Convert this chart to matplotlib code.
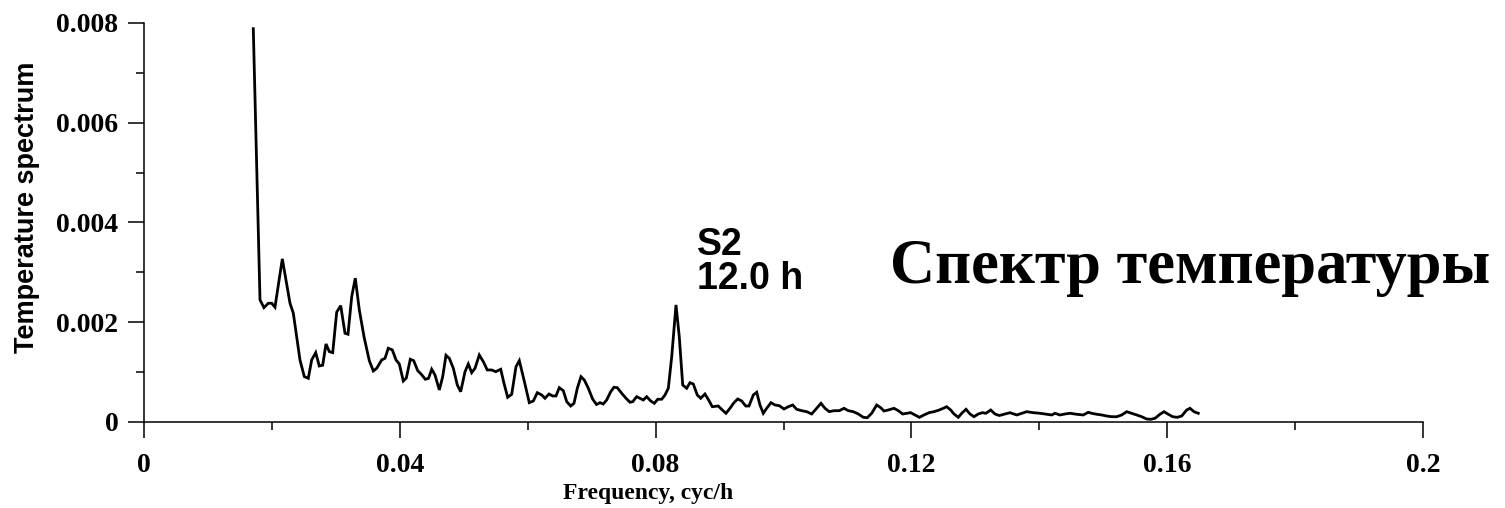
import matplotlib
matplotlib.use("Agg")
import matplotlib.pyplot as plt
from matplotlib.ticker import MultipleLocator, FixedLocator

# ---- data ----
freq = [0.01709, 0.01814, 0.01876, 0.01944, 0.01997, 0.02048, 0.02163, 0.02283, 0.02335, 0.02439,
        0.02507, 0.02569, 0.02622, 0.02685, 0.02741, 0.02794, 0.02846, 0.02898, 0.02951, 0.03013,
        0.03076, 0.03143, 0.03190, 0.03248, 0.03304, 0.03367, 0.03440, 0.03523, 0.03586, 0.03639,
        0.03717, 0.03769, 0.03820, 0.03883, 0.03941, 0.03992, 0.04055, 0.04102, 0.04164, 0.04217,
        0.04280, 0.04336, 0.04399, 0.04449, 0.04499, 0.04550, 0.04618, 0.04671, 0.04722, 0.04774,
        0.04837, 0.04899, 0.04952, 0.05020, 0.05071, 0.05124, 0.05176, 0.05243, 0.05306, 0.05368,
        0.05437, 0.05500, 0.05578, 0.05629, 0.05687, 0.05750, 0.05817, 0.05869, 0.05942, 0.06025,
        0.06088, 0.06150, 0.06219, 0.06270, 0.06333, 0.06391, 0.06442, 0.06494, 0.06557, 0.06610,
        0.06672, 0.06724, 0.06776, 0.06833, 0.06885, 0.06948, 0.07016, 0.07076, 0.07130, 0.07182,
        0.07235, 0.07298, 0.07349, 0.07401, 0.07470, 0.07537, 0.07600, 0.07642, 0.07704, 0.07756,
        0.07808, 0.07861, 0.07923, 0.07980, 0.08033, 0.08095, 0.08147, 0.08199, 0.08252, 0.08319,
        0.08370, 0.08424, 0.08486, 0.08538, 0.08589, 0.08652, 0.08705, 0.08772, 0.08835, 0.08887,
        0.08980, 0.09043, 0.09101, 0.09163, 0.09226, 0.09284, 0.09346, 0.09409, 0.09460, 0.09528,
        0.09581, 0.09632, 0.09684, 0.09737, 0.09804, 0.09867, 0.09934, 0.10008, 0.10075, 0.10144,
        0.10206, 0.10284, 0.10363, 0.10441, 0.10519, 0.10586, 0.10649, 0.10716, 0.10789, 0.10872,
        0.10946, 0.11013, 0.11091, 0.11170, 0.11248, 0.11310, 0.11379, 0.11457, 0.11520, 0.11571,
        0.11639, 0.11728, 0.11795, 0.11864, 0.11926, 0.11989, 0.12056, 0.12124, 0.12197, 0.12275,
        0.12353, 0.12436, 0.12499, 0.12552, 0.12614, 0.12666, 0.12733, 0.12796, 0.12854, 0.12916,
        0.12979, 0.13046, 0.13109, 0.13166, 0.13240, 0.13307, 0.13374, 0.13464, 0.13542, 0.13647,
        0.13725, 0.13803, 0.13906, 0.14011, 0.14116, 0.14194, 0.14245, 0.14324, 0.14402, 0.14480,
        0.14585, 0.14688, 0.14766, 0.14819, 0.14897, 0.14976, 0.15054, 0.15132, 0.15210, 0.15288,
        0.15367, 0.15445, 0.15523, 0.15601, 0.15679, 0.15742, 0.15809, 0.15887, 0.15950, 0.16017,
        0.16086, 0.16158, 0.16227, 0.16305, 0.16356, 0.16419, 0.16486]

spectrum = [0.007886, 0.002444, 0.002289, 0.002377, 0.002377, 0.002297, 0.003267, 0.002377, 0.002177, 0.001239,
            0.000904, 0.000871, 0.001239, 0.001386, 0.001118, 0.001133, 0.001560, 0.001406, 0.001386, 0.002197,
            0.002329, 0.001775, 0.001755, 0.002510, 0.002880, 0.002243, 0.001707, 0.001225, 0.001018, 0.001072,
            0.001239, 0.001273, 0.001474, 0.001440, 0.001239, 0.001159, 0.000817, 0.000877, 0.001253, 0.001225,
            0.001024, 0.000952, 0.000851, 0.000871, 0.001052, 0.000938, 0.000637, 0.000904, 0.001333, 0.001273,
            0.001072, 0.000737, 0.000602, 0.001004, 0.001159, 0.000984, 0.001072, 0.001339, 0.001205, 0.001038,
            0.001038, 0.001004, 0.001052, 0.000771, 0.000490, 0.000550, 0.001104, 0.001225, 0.000837, 0.000382,
            0.000416, 0.000582, 0.000536, 0.000470, 0.000556, 0.000516, 0.000516, 0.000683, 0.000622, 0.000402,
            0.000315, 0.000369, 0.000671, 0.000904, 0.000837, 0.000671, 0.000452, 0.000345, 0.000382, 0.000355,
            0.000436, 0.000602, 0.000691, 0.000683, 0.000570, 0.000470, 0.000390, 0.000402, 0.000502, 0.000470,
            0.000436, 0.000502, 0.000416, 0.000369, 0.000450, 0.000450, 0.000536, 0.000671, 0.001305, 0.002343,
            0.001707, 0.000737, 0.000671, 0.000783, 0.000757, 0.000536, 0.000470, 0.000556, 0.000422, 0.000301,
            0.000315, 0.000235, 0.000169, 0.000269, 0.000382, 0.000456, 0.000416, 0.000315, 0.000315, 0.000536,
            0.000590, 0.000335, 0.000169, 0.000269, 0.000382, 0.000335, 0.000321, 0.000255, 0.000301, 0.000335,
            0.000249, 0.000221, 0.000201, 0.000155, 0.000269, 0.000369, 0.000269, 0.000201, 0.000221, 0.000221,
            0.000269, 0.000221, 0.000201, 0.000155, 0.000088, 0.000080, 0.000169, 0.000335, 0.000281, 0.000215,
            0.000235, 0.000269, 0.000221, 0.000155, 0.000169, 0.000181, 0.000135, 0.000088, 0.000135, 0.000181,
            0.000201, 0.000235, 0.000269, 0.000301, 0.000235, 0.000155, 0.000088, 0.000181, 0.000249, 0.000155,
            0.000100, 0.000155, 0.000181, 0.000169, 0.000235, 0.000155, 0.000124, 0.000155, 0.000181, 0.000135,
            0.000169, 0.000201, 0.000181, 0.000169, 0.000149, 0.000135, 0.000169, 0.000135, 0.000155, 0.000169,
            0.000149, 0.000135, 0.000189, 0.000169, 0.000149, 0.000135, 0.000114, 0.000100, 0.000100, 0.000135,
            0.000201, 0.000169, 0.000135, 0.000100, 0.000054, 0.000048, 0.000068, 0.000149, 0.000201, 0.000149,
            0.000100, 0.000088, 0.000114, 0.000235, 0.000269, 0.000201, 0.000169]

x_ticks = [0, 0.04, 0.08, 0.12, 0.16, 0.2]
x_tick_labels = ["0", "0.04", "0.08", "0.12", "0.16", "0.2"]
y_ticks = [0, 0.002, 0.004, 0.006, 0.008]
y_tick_labels = ["0", "0.002", "0.004", "0.006", "0.008"]

title_text = "Спектр температуры"
peak_label = "S2\n12.0 h"
x_label = "Frequency, cyc/h"
y_label = "Temperature spectrum"

# ---- figure ----
fig = plt.figure(figsize=(15.05, 5.08), dpi=100)
ax = fig.add_axes([144 / 1505, 1 - 421.7 / 508, (1423 - 144) / 1505, (421.7 - 23) / 508])

ax.plot(freq, spectrum, color="black", linewidth=2.0, solid_joinstyle="miter")

ax.set_xlim(0, 0.2)
ax.set_ylim(0, 0.008)

for s in ["top", "right"]:
    ax.spines[s].set_visible(False)
for s in ["left", "bottom"]:
    ax.spines[s].set_linewidth(1.1)

ax.xaxis.set_major_locator(FixedLocator(x_ticks))
ax.set_xticklabels(x_tick_labels)
ax.yaxis.set_major_locator(FixedLocator(y_ticks))
ax.set_yticklabels(y_tick_labels)
ax.xaxis.set_minor_locator(MultipleLocator(0.02))
ax.yaxis.set_minor_locator(MultipleLocator(0.001))

for lab in ax.get_xticklabels() + ax.get_yticklabels():
    lab.set_fontfamily("Liberation Serif")
    lab.set_fontweight("bold")
    lab.set_fontsize(20)

ax.tick_params(axis="both", which="major", direction="out", length=11.5, width=1.1, color="black")
ax.tick_params(axis="both", which="minor", direction="out", length=6, width=1.1, color="black")
ax.tick_params(axis="x", which="major", pad=11)
ax.tick_params(axis="y", which="major", pad=7)

ax.set_xlabel(x_label, fontfamily="Liberation Serif", fontweight="bold", fontsize=17)
ax.xaxis.set_label_coords((648 - 144) / 1279, -(494 - 421.7) / 398.7)
ax.xaxis.label.set_verticalalignment("center")

ax.set_ylabel(y_label, fontfamily="Liberation Sans", fontweight="bold", fontsize=19.5)
ax.yaxis.set_label_coords(-(144 - 27) / 1279, (421.7 - 207) / 398.7)
ax.yaxis.label.set_verticalalignment("center")

ax.text(0.1167, 0.00278, title_text, fontfamily="Liberation Serif", fontweight="bold",
        fontsize=45, ha="left", va="baseline")
ax.text(0.0865, 0.00266, peak_label, fontfamily="Liberation Sans", fontweight="bold",
        fontsize=27, ha="left", va="baseline", linespacing=0.92)

fig.savefig("out.png", dpi=100)
